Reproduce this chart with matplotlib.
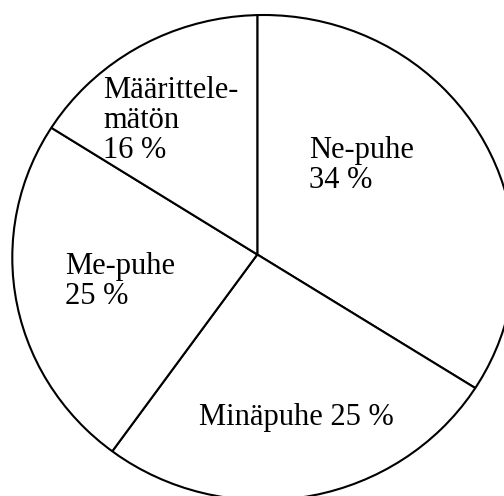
import matplotlib
matplotlib.use("Agg")
import matplotlib.pyplot as plt
from matplotlib.patches import Ellipse

# Data (clockwise from 12 o'clock); wedge sizes
categories = ["Ne-puhe", "Minäpuhe", "Me-puhe", "Määrittelemätön"]
values = [33.75, 26.36, 23.67, 16.22]
label_texts = ["Ne-puhe\n34 %", "Minäpuhe 25 %", "Me-puhe\n25 %", "Määrittele-\nmätön\n16 %"]

W, H = 504, 496
fig = plt.figure(figsize=(W / 100, H / 100), dpi=100)
fig.patch.set_facecolor("white")
ax = fig.add_axes([0, 0, 1, 1])

# pie apex (pixel coords, y up) and the outline ellipse of the chart
apex = (257.3, H - 254.5)
outline = Ellipse((263.5, H - 257.6), width=502.4, height=485.2,
                  facecolor="none", edgecolor="black", linewidth=1.5, zorder=3)
ax.add_patch(outline)

wedges, _ = ax.pie(values, startangle=90, counterclock=False, radius=320,
                   center=apex, frame=True,
                   colors=["white"] * len(values),
                   wedgeprops=dict(edgecolor="black", linewidth=1.5))
for w in wedges:
    w.set_clip_on(True)
    w.set_clip_path(outline)

ax.set_aspect("auto")
ax.set_xlim(0, W)
ax.set_ylim(0, H)
ax.axis("off")

# label anchor points (pixel: left x, last-line baseline from top)
label_pos = [(309, 188), (199, 425), (65, 304), (103, 158)]
for txt, (px, py) in zip(label_texts, label_pos):
    ax.text(px, H - py, txt, ha="left", va="baseline", linespacing=1.04,
            family=["Liberation Serif", "DejaVu Serif"], size=22, zorder=4)

fig.savefig("out.png", dpi=100, facecolor="white")
